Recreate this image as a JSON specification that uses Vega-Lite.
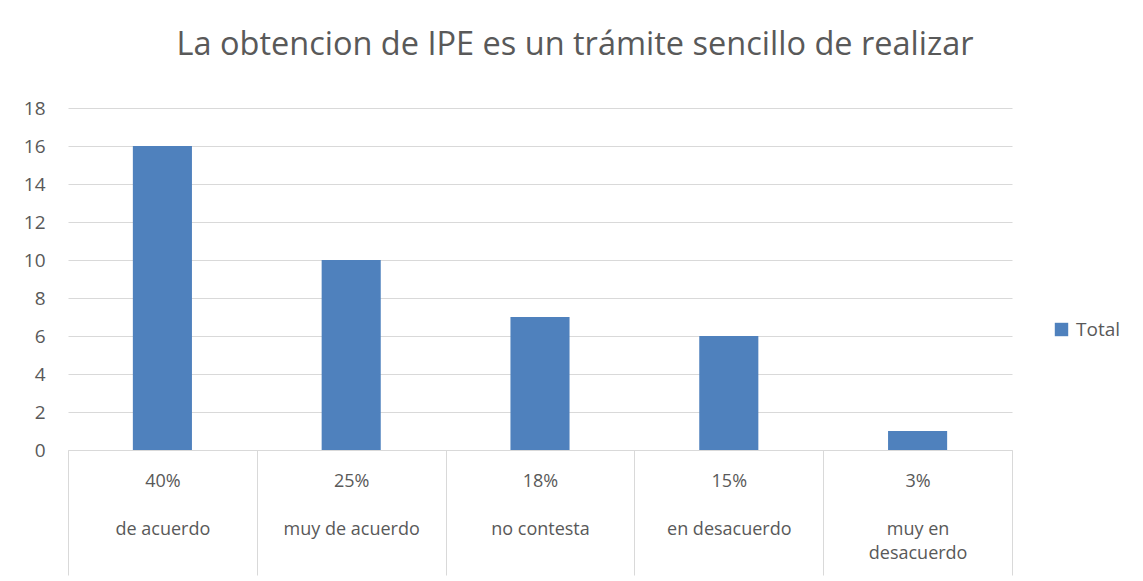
{
  "$schema": "https://vega.github.io/schema/vega-lite/v6.json",
  "autosize": {"type": "none"},
  "width": 944,
  "height": 342,
  "padding": {"left": 68, "top": 108, "right": 131, "bottom": 131},
  "background": "white",
  "title": {
    "text": "La obtencion de IPE es un trámite sencillo de realizar",
    "font": "Open Sans",
    "fontSize": 32.5,
    "fontWeight": "normal",
    "color": "#595959",
    "anchor": "middle",
    "dx": 35,
    "offset": 38
  },
  "data": {
    "values": [
      {"categoria": "40%||de acuerdo", "serie": "Total", "valor": 16},
      {"categoria": "25%||muy de acuerdo", "serie": "Total", "valor": 10},
      {"categoria": "18%||no contesta", "serie": "Total", "valor": 7},
      {"categoria": "15%||en desacuerdo", "serie": "Total", "valor": 6},
      {"categoria": "3%||muy en|desacuerdo", "serie": "Total", "valor": 1}
    ]
  },
  "mark": {"type": "bar", "width": {"band": 0.313}},
  "encoding": {
    "x": {
      "field": "categoria",
      "type": "nominal",
      "sort": null,
      "scale": {"paddingInner": 0, "paddingOuter": 0},
      "axis": {
        "title": null,
        "labelAngle": 0,
        "labelExpr": "isValid(datum.value) ? split(replace(datum.value, '||', '|\u200b|'), '|') : ''",
        "labelFont": "Open Sans",
        "labelFontSize": 18,
        "labelColor": "#595959",
        "labelLineHeight": 24,
        "labelBaseline": "top",
        "labelPadding": -103,
        "labelLimit": 200,
        "labelOverlap": false,
        "domainColor": "#d9d9d9",
        "domainWidth": 1,
        "tickColor": "#d9d9d9",
        "tickBand": "extent",
        "tickSize": 125,
        "tickWidth": 1
      }
    },
    "y": {
      "field": "valor",
      "type": "quantitative",
      "scale": {"domain": [0, 18]},
      "axis": {
        "title": null,
        "values": [0, 2, 4, 6, 8, 10, 12, 14, 16, 18],
        "domain": false,
        "ticks": false,
        "labelFont": "Open Sans",
        "labelFontSize": 19,
        "labelColor": "#595959",
        "labelPadding": 23,
        "gridColor": "#d9d9d9",
        "gridWidth": 1
      }
    },
    "color": {
      "field": "serie",
      "type": "nominal",
      "scale": {"range": ["#4f81bd"]},
      "legend": {
        "title": null,
        "orient": "none",
        "legendX": 984,
        "legendY": 212,
        "symbolType": "square",
        "symbolSize": 180,
        "symbolStrokeWidth": 0,
        "labelFont": "Open Sans",
        "labelFontSize": 19,
        "labelColor": "#595959",
        "labelOffset": 5
      }
    }
  },
  "config": {
    "view": {"stroke": null}
  }
}
